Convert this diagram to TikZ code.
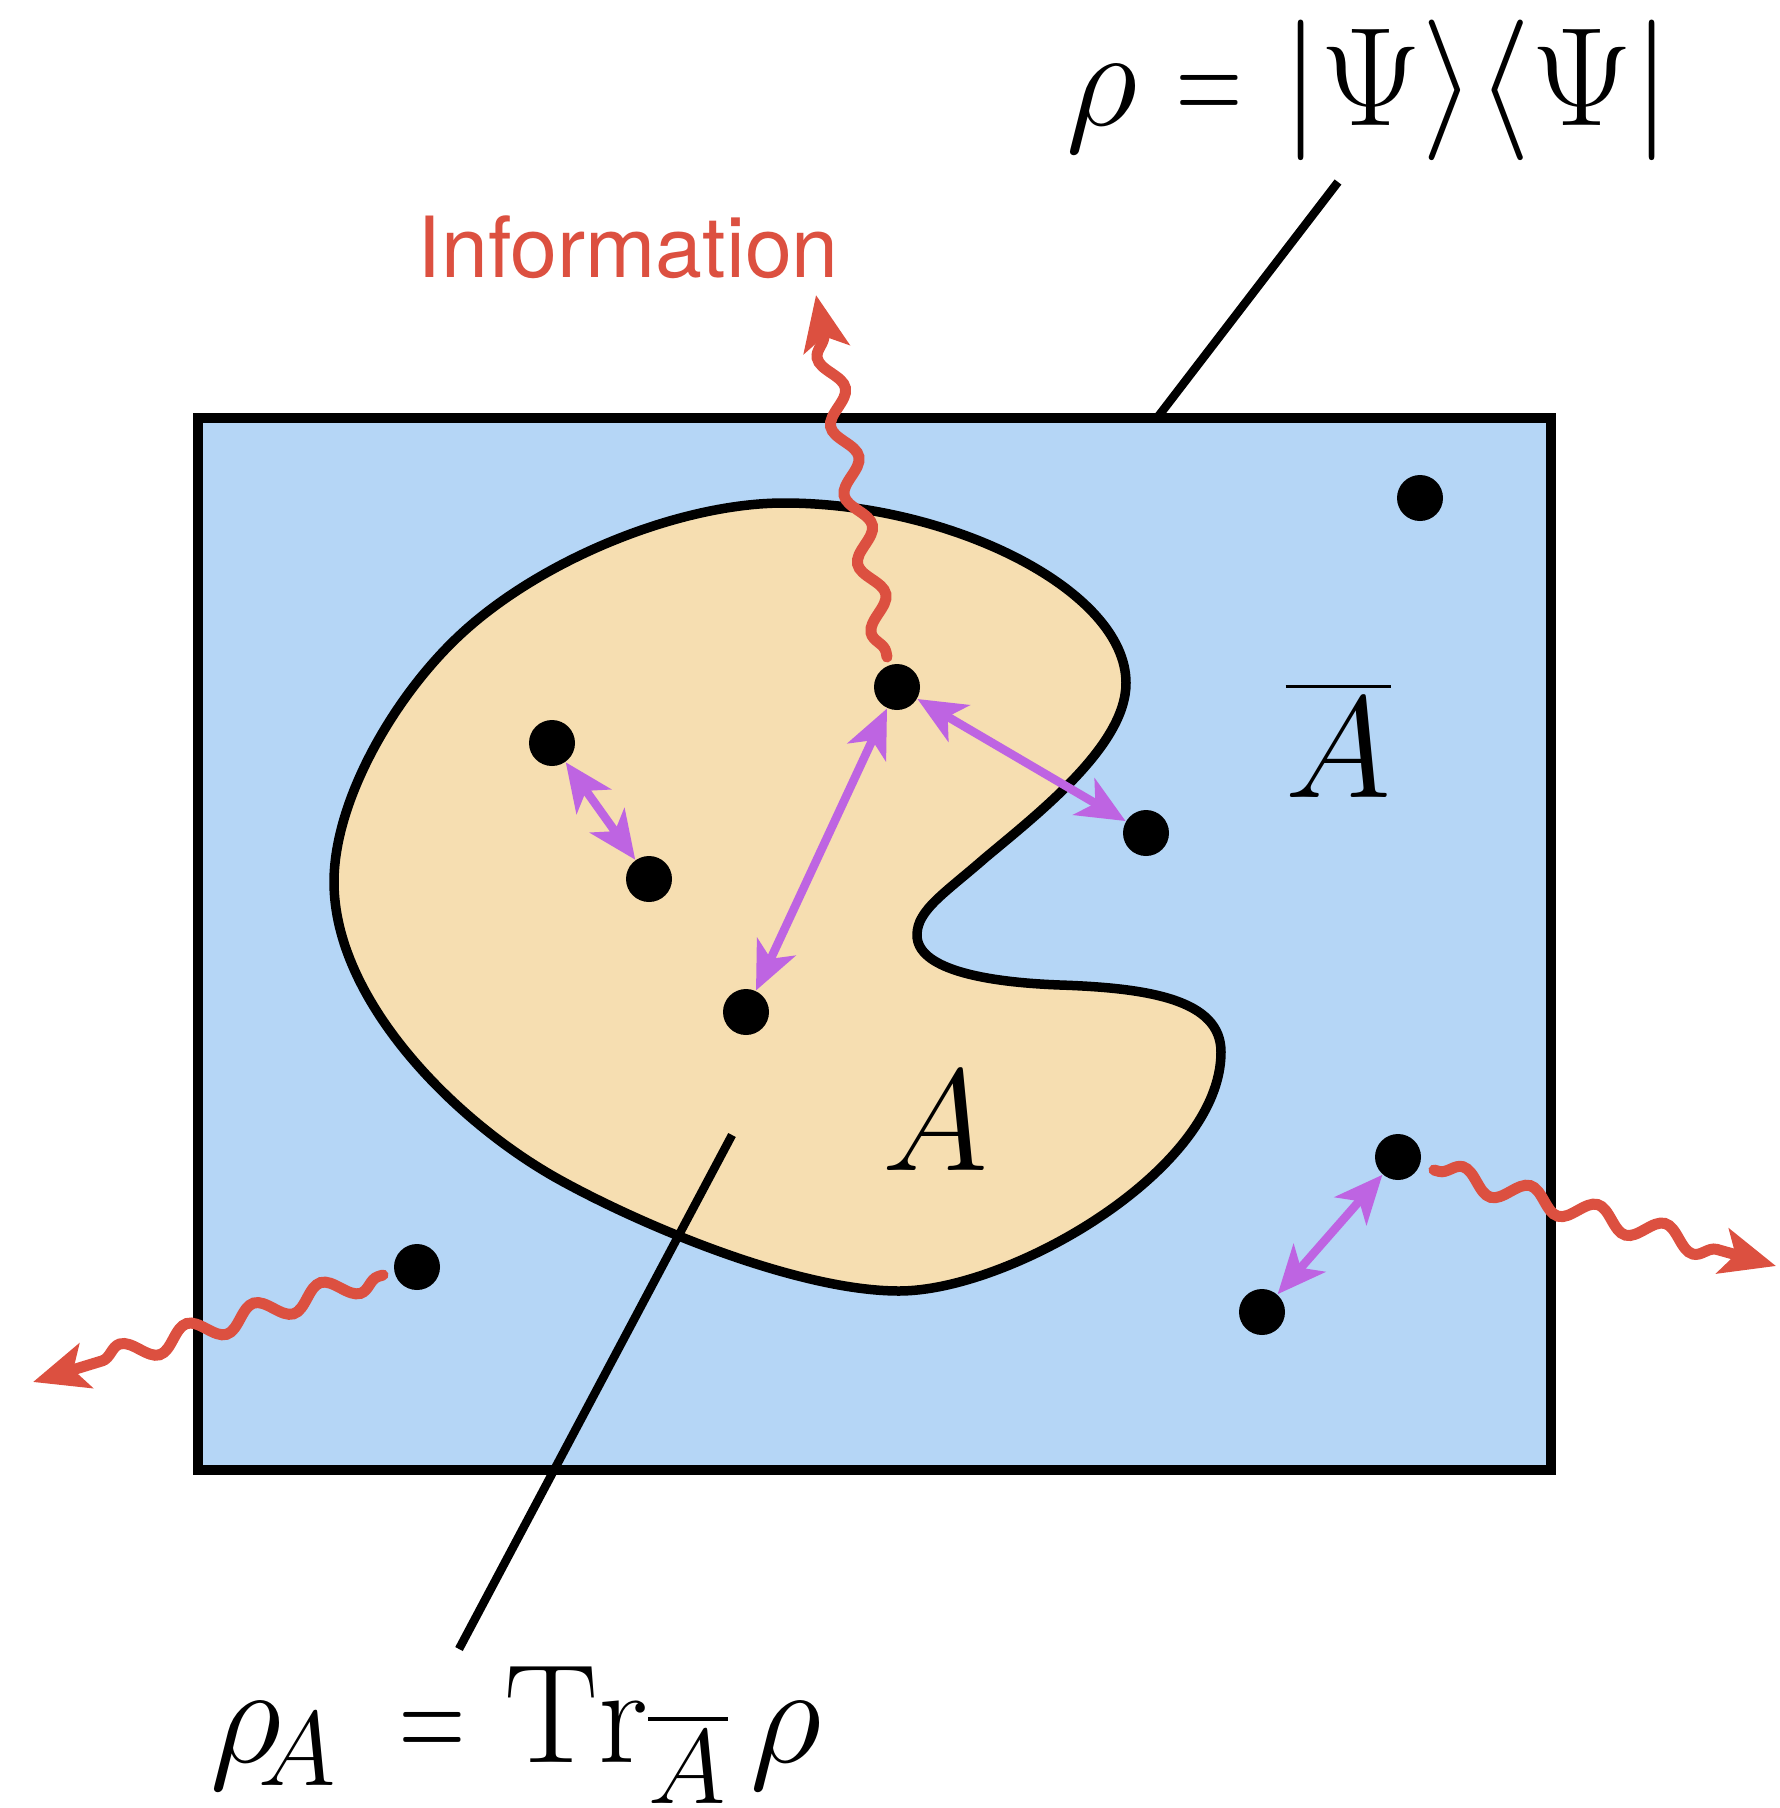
\RequirePackage{fix-cm}
\documentclass[tikz,border=0pt]{standalone}
\usepackage{amsmath}
\usepackage{graphicx}
\usepackage{fontspec}
\newfontfamily\infofont{TeX Gyre Heros}
\DeclareMathSizes{40}{40}{30}{22}
\usetikzlibrary{arrows.meta,decorations.pathmorphing}
\definecolor{boxblue}{RGB}{181,214,246}
\definecolor{blobtan}{RGB}{246,222,177}
\definecolor{wavered}{RGB}{220,80,64}
\definecolor{linkpurple}{RGB}{190,100,226}
\newcommand{\nareq}{\mathrel{\scalebox{0.65}[1]{$=$}}}
\tikzset{
  dot/.style={circle,fill=black,inner sep=0pt,minimum size=4.6mm},
  link/.style={draw=linkpurple,line width=0.85mm,
    {Stealth[length=4.8mm,width=4.2mm,inset=1.3mm]}-{Stealth[length=4.8mm,width=4.2mm,inset=1.3mm]}},
  wave/.style={draw=wavered,line width=1.1mm,line cap=round,
    -{Stealth[length=5.5mm,width=4.6mm,inset=1.3mm]},
    decorate,decoration={snake,amplitude=1.1mm,segment length=7mm,pre length=0.5mm,post length=4mm}},
  pointer/.style={draw=black,line width=0.85mm},
  eqn/.style={inner sep=0pt,font=\fontsize{40}{48}\selectfont},
  regionname/.style={inner sep=0pt,font=\fontsize{41}{49}\selectfont}
}
\begin{document}
\begin{tikzpicture}[x=0.1mm,y=-0.1mm]
\useasboundingbox (0,0) rectangle (1779,1808);
% system box
\draw[line width=1mm,fill=boxblue] (198,418) rectangle (1551,1470);
% region A
\draw[line width=0.95mm,fill=blobtan]
  (784,503) .. controls (950,503) and (1126,590) .. (1126,683)
  .. controls (1126,745) and (1040,812) .. (985,858)
  .. controls (945,893) and (917,910) .. (917,935)
  .. controls (917,968) and (980,982) .. (1060,985)
  .. controls (1150,988) and (1221,1000) .. (1221,1052)
  .. controls (1221,1170) and (1010,1291) .. (899,1291)
  .. controls (800,1291) and (647,1228) .. (560,1180)
  .. controls (455,1122) and (334,1000) .. (334,882)
  .. controls (334,800) and (395,695) .. (461,634)
  .. controls (542,559) and (680,503) .. (784,503) -- cycle;
% pointer lines
\coordinate (t1) at (1157,418);
\coordinate (t2) at (1338,182);
\coordinate (b1) at (732,1135);
\coordinate (b2) at (459,1649);
\draw[pointer] (t1) -- (t2);
\draw[pointer] (b1) -- (b2);
% particles
\node[dot] (p1) at (552,743) {};
\node[dot] (p2) at (649,879) {};
\node[dot] (p3) at (746,1012) {};
\node[dot] (p4) at (897,687) {};
\node[dot] (p5) at (1146,833) {};
\node[dot] (p6) at (1420,498) {};
\node[dot] (p7) at (417,1267) {};
\node[dot] (p8) at (1398,1157) {};
\node[dot] (p9) at (1262,1312) {};
% entanglement links
\draw[link] (p1) -- (p2);
\draw[link] (p4) -- (p3);
\draw[link] (p4) -- (p5);
\draw[link] (p8) -- (p9);
% information leaking
\coordinate (w1s) at (887,657);
\coordinate (w1e) at (816,295);
\coordinate (w2s) at (383,1275);
\coordinate (w2e) at (33,1382);
\coordinate (w3s) at (1434,1170);
\coordinate (w3e) at (1776,1266);
\draw[wave] (w1s) -- (w1e);
\draw[wave] (w2s) -- (w2e);
\draw[wave] (w3s) -- (w3e);
% texts
\node[anchor=base west,inner sep=0pt,text=wavered,font=\infofont\fontsize{24}{29}\selectfont] (info) at (417,277) {Information};
\node[eqn,anchor=base west] (rho) at (1066,125) {$\rho \nareq |\Psi\rangle\langle\Psi|$};
\node[eqn,anchor=base west] (rhoA) at (210,1762) {$\rho_{\mkern-4mu A\mkern4mu} \nareq \operatorname{Tr}_{\overline{A}}\rho$};
\node[regionname,anchor=base west] (abar) at (1285,797) {$\overline{A}$};
\node[regionname,anchor=base west] (alab) at (882,1170) {$A$};
\end{tikzpicture}
\end{document}
